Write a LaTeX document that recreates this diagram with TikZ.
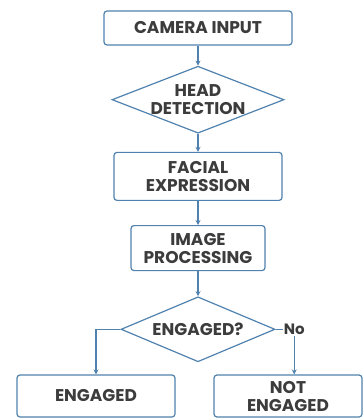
\documentclass[tikz,border=0pt]{standalone}
\usepackage{fontspec}
\setmainfont{Poppins}
\usetikzlibrary{arrows.meta,shapes.geometric,positioning}
\definecolor{lineblue}{RGB}{80,130,175}
\definecolor{textgray}{RGB}{60,60,60}
\tikzset{
    block/.style={rectangle, draw=lineblue, line width=1.2pt, fill=white, rounded corners=3pt, align=center, font=\fontsize{17}{18}\selectfont\bfseries, text=textgray},
    decision/.style={diamond, draw=lineblue, line width=1.2pt, fill=white, inner sep=0pt},
    arrow/.style={-{Stealth[length=5pt,width=5pt]}, draw=lineblue, line width=1.2pt}
}
\begin{document}
\begin{tikzpicture}[
    x=1pt, y=1pt,
    node distance=20pt,
    dlabel/.style={align=center, font=\fontsize{17}{18}\selectfont\bfseries, text=textgray}
]
\useasboundingbox (0,0) rectangle (363,-419);

% Steps
\node[block, minimum width=188pt, minimum height=34pt] (cam) at (198,-28) {CAMERA INPUT};
\node[decision, minimum width=172pt, minimum height=67pt, below=20pt of cam.south, anchor=north, label={[dlabel]center:HEAD\\DETECTION}] (head) {};
\node[block, minimum width=168pt, minimum height=48pt, below=18pt of head] (face) {FACIAL\\EXPRESSION};
\node[block, minimum width=134pt, minimum height=45pt, below=24pt of face] (proc) {IMAGE\\PROCESSING};
\node[decision, minimum width=154pt, minimum height=65pt, below=25pt of proc, label={[dlabel]center:ENGAGED?}] (eng) {};

% Outcomes
\node[block, minimum width=158pt, minimum height=42pt] (yes) at (96,-396) {ENGAGED};
\node[block, minimum width=148pt, minimum height=42pt] (notyes) at (288,-396) {NOT\\ENGAGED};
\node[dlabel, font=\fontsize{15}{16}\selectfont\bfseries, inner sep=1pt, right=7pt of eng.east] (no) {No};

% Arrows
\draw[arrow] (cam) -- (head);
\draw[arrow] (head) -- (face);
\draw[arrow] (face) -- (proc);
\draw[arrow] (proc) -- (eng);
\draw[arrow] (eng.west) -| (yes.north);
\draw[draw=lineblue, line width=1.2pt] (eng.east) -- (no.west);
\draw[arrow] (no.south) -- (no.south |- notyes.north);

\end{tikzpicture}
\end{document}
